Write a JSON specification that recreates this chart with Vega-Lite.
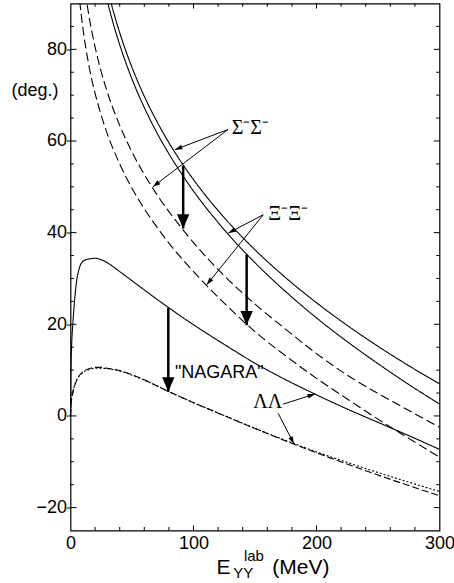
{
  "$schema": "https://vega.github.io/schema/vega-lite/v6.json",
  "width": 369,
  "height": 527,
  "autosize": {"type": "none"},
  "padding": {"left": 70.5, "top": 3.5, "right": 14.5, "bottom": 52.5},
  "background": "white",
  "config": {
    "view": {"stroke": "black", "strokeWidth": 1.2},
    "axis": {"labelFont": "Liberation Sans", "labelFontSize": 18, "labelColor": "black", "tickColor": "black", "tickWidth": 1, "grid": false, "domain": false, "title": null}
  },
  "datasets": {
    "ticks": [
      {"axis": "x", "v": 20, "major": false}, {"axis": "x", "v": 40, "major": false}, {"axis": "x", "v": 60, "major": false}, {"axis": "x", "v": 80, "major": false}, {"axis": "x", "v": 100, "major": true}, {"axis": "x", "v": 120, "major": false}, {"axis": "x", "v": 140, "major": false}, {"axis": "x", "v": 160, "major": false}, {"axis": "x", "v": 180, "major": false}, {"axis": "x", "v": 200, "major": true}, {"axis": "x", "v": 220, "major": false}, {"axis": "x", "v": 240, "major": false}, {"axis": "x", "v": 260, "major": false}, {"axis": "x", "v": 280, "major": false},
      {"axis": "y", "v": -20, "major": true}, {"axis": "y", "v": -15, "major": false}, {"axis": "y", "v": -10, "major": false}, {"axis": "y", "v": -5, "major": false}, {"axis": "y", "v": 0, "major": true}, {"axis": "y", "v": 5, "major": false}, {"axis": "y", "v": 10, "major": false}, {"axis": "y", "v": 15, "major": false}, {"axis": "y", "v": 20, "major": true}, {"axis": "y", "v": 25, "major": false}, {"axis": "y", "v": 30, "major": false}, {"axis": "y", "v": 35, "major": false}, {"axis": "y", "v": 40, "major": true}, {"axis": "y", "v": 45, "major": false}, {"axis": "y", "v": 50, "major": false}, {"axis": "y", "v": 55, "major": false}, {"axis": "y", "v": 60, "major": true}, {"axis": "y", "v": 65, "major": false}, {"axis": "y", "v": 70, "major": false}, {"axis": "y", "v": 75, "major": false}, {"axis": "y", "v": 80, "major": true}, {"axis": "y", "v": 85, "major": false}
    ],
    "curves": [
      {"s": "SigmaSigma", "x": 30, "y": 93.28}, {"s": "SigmaSigma", "x": 35, "y": 88.13}, {"s": "SigmaSigma", "x": 40, "y": 83.63}, {"s": "SigmaSigma", "x": 45, "y": 79.64}, {"s": "SigmaSigma", "x": 50, "y": 76.04}, {"s": "SigmaSigma", "x": 60, "y": 69.75}, {"s": "SigmaSigma", "x": 70, "y": 64.37}, {"s": "SigmaSigma", "x": 80, "y": 59.63}, {"s": "SigmaSigma", "x": 90, "y": 55.4}, {"s": "SigmaSigma", "x": 100, "y": 51.56}, {"s": "SigmaSigma", "x": 125, "y": 43.26}, {"s": "SigmaSigma", "x": 150, "y": 36.25}, {"s": "SigmaSigma", "x": 175, "y": 30.15}, {"s": "SigmaSigma", "x": 200, "y": 24.7}, {"s": "SigmaSigma", "x": 225, "y": 19.75}, {"s": "SigmaSigma", "x": 250, "y": 15.2}, {"s": "SigmaSigma", "x": 275, "y": 10.96}, {"s": "SigmaSigma", "x": 300, "y": 7.0},
      {"s": "XiXi", "x": 27, "y": 93.9}, {"s": "XiXi", "x": 30, "y": 90.5}, {"s": "XiXi", "x": 35, "y": 85.4}, {"s": "XiXi", "x": 40, "y": 81.0}, {"s": "XiXi", "x": 45, "y": 77.07}, {"s": "XiXi", "x": 50, "y": 73.5}, {"s": "XiXi", "x": 60, "y": 67.3}, {"s": "XiXi", "x": 70, "y": 61.9}, {"s": "XiXi", "x": 80, "y": 57.2}, {"s": "XiXi", "x": 90, "y": 52.95}, {"s": "XiXi", "x": 100, "y": 49.07}, {"s": "XiXi", "x": 125, "y": 40.63}, {"s": "XiXi", "x": 150, "y": 33.43}, {"s": "XiXi", "x": 175, "y": 27.1}, {"s": "XiXi", "x": 200, "y": 21.4}, {"s": "XiXi", "x": 225, "y": 16.2}, {"s": "XiXi", "x": 250, "y": 11.4}, {"s": "XiXi", "x": 275, "y": 6.86}, {"s": "XiXi", "x": 300, "y": 2.6},
      {"s": "SigmaSigma dashed", "x": 12, "y": 92.5}, {"s": "SigmaSigma dashed", "x": 15, "y": 87.3}, {"s": "SigmaSigma dashed", "x": 20, "y": 80.5}, {"s": "SigmaSigma dashed", "x": 25, "y": 75.1}, {"s": "SigmaSigma dashed", "x": 30, "y": 70.6}, {"s": "SigmaSigma dashed", "x": 40, "y": 63.4}, {"s": "SigmaSigma dashed", "x": 50, "y": 57.6}, {"s": "SigmaSigma dashed", "x": 60, "y": 52.7}, {"s": "SigmaSigma dashed", "x": 70, "y": 48.4}, {"s": "SigmaSigma dashed", "x": 80, "y": 44.6}, {"s": "SigmaSigma dashed", "x": 90, "y": 41.1}, {"s": "SigmaSigma dashed", "x": 100, "y": 37.8}, {"s": "SigmaSigma dashed", "x": 125, "y": 30.6}, {"s": "SigmaSigma dashed", "x": 150, "y": 24.4}, {"s": "SigmaSigma dashed", "x": 175, "y": 18.9}, {"s": "SigmaSigma dashed", "x": 200, "y": 13.6}, {"s": "SigmaSigma dashed", "x": 225, "y": 8.9}, {"s": "SigmaSigma dashed", "x": 250, "y": 4.9}, {"s": "SigmaSigma dashed", "x": 275, "y": 1.2}, {"s": "SigmaSigma dashed", "x": 300, "y": -2.5},
      {"s": "XiXi dashed", "x": 6.5, "y": 93.4}, {"s": "XiXi dashed", "x": 7.6, "y": 90.3}, {"s": "XiXi dashed", "x": 10, "y": 84.8}, {"s": "XiXi dashed", "x": 15, "y": 76.4}, {"s": "XiXi dashed", "x": 20, "y": 70.4}, {"s": "XiXi dashed", "x": 25, "y": 65.6}, {"s": "XiXi dashed", "x": 30, "y": 61.5}, {"s": "XiXi dashed", "x": 40, "y": 55.0}, {"s": "XiXi dashed", "x": 50, "y": 49.7}, {"s": "XiXi dashed", "x": 60, "y": 45.2}, {"s": "XiXi dashed", "x": 70, "y": 41.3}, {"s": "XiXi dashed", "x": 80, "y": 37.7}, {"s": "XiXi dashed", "x": 90, "y": 34.5}, {"s": "XiXi dashed", "x": 100, "y": 31.5}, {"s": "XiXi dashed", "x": 125, "y": 24.6}, {"s": "XiXi dashed", "x": 150, "y": 18.4}, {"s": "XiXi dashed", "x": 175, "y": 13.1}, {"s": "XiXi dashed", "x": 200, "y": 8.2}, {"s": "XiXi dashed", "x": 225, "y": 3.7}, {"s": "XiXi dashed", "x": 250, "y": -0.7}, {"s": "XiXi dashed", "x": 275, "y": -4.9}, {"s": "XiXi dashed", "x": 300, "y": -9.0},
      {"s": "NAGARA", "x": 0, "y": 0}, {"s": "NAGARA", "x": 0.25, "y": 8}, {"s": "NAGARA", "x": 0.5, "y": 12}, {"s": "NAGARA", "x": 1, "y": 16}, {"s": "NAGARA", "x": 2, "y": 20.5}, {"s": "NAGARA", "x": 3, "y": 24.2}, {"s": "NAGARA", "x": 4, "y": 27.2}, {"s": "NAGARA", "x": 5, "y": 29.5}, {"s": "NAGARA", "x": 6.5, "y": 31.6}, {"s": "NAGARA", "x": 8, "y": 32.9}, {"s": "NAGARA", "x": 10, "y": 33.7}, {"s": "NAGARA", "x": 14, "y": 34.2}, {"s": "NAGARA", "x": 20, "y": 34.4}, {"s": "NAGARA", "x": 25, "y": 34.1}, {"s": "NAGARA", "x": 30, "y": 33.4}, {"s": "NAGARA", "x": 40, "y": 31.5}, {"s": "NAGARA", "x": 50, "y": 29.5}, {"s": "NAGARA", "x": 60, "y": 27.5}, {"s": "NAGARA", "x": 70, "y": 25.5}, {"s": "NAGARA", "x": 80, "y": 23.6}, {"s": "NAGARA", "x": 90, "y": 21.7}, {"s": "NAGARA", "x": 100, "y": 19.9}, {"s": "NAGARA", "x": 125, "y": 15.6}, {"s": "NAGARA", "x": 150, "y": 11.5}, {"s": "NAGARA", "x": 175, "y": 7.9}, {"s": "NAGARA", "x": 200, "y": 4.6}, {"s": "NAGARA", "x": 225, "y": 1.5}, {"s": "NAGARA", "x": 250, "y": -1.4}, {"s": "NAGARA", "x": 275, "y": -4.3}, {"s": "NAGARA", "x": 300, "y": -7.3},
      {"s": "LambdaLambda dashed", "x": 0, "y": 0}, {"s": "LambdaLambda dashed", "x": 0.5, "y": 2.7}, {"s": "LambdaLambda dashed", "x": 1, "y": 3.8}, {"s": "LambdaLambda dashed", "x": 2, "y": 5.2}, {"s": "LambdaLambda dashed", "x": 3, "y": 6.3}, {"s": "LambdaLambda dashed", "x": 4, "y": 7.1}, {"s": "LambdaLambda dashed", "x": 6, "y": 8.3}, {"s": "LambdaLambda dashed", "x": 8, "y": 9.1}, {"s": "LambdaLambda dashed", "x": 10, "y": 9.6}, {"s": "LambdaLambda dashed", "x": 15, "y": 10.3}, {"s": "LambdaLambda dashed", "x": 20, "y": 10.6}, {"s": "LambdaLambda dashed", "x": 25, "y": 10.6}, {"s": "LambdaLambda dashed", "x": 30, "y": 10.4}, {"s": "LambdaLambda dashed", "x": 40, "y": 9.9}, {"s": "LambdaLambda dashed", "x": 50, "y": 9.0}, {"s": "LambdaLambda dashed", "x": 60, "y": 7.9}, {"s": "LambdaLambda dashed", "x": 70, "y": 6.6}, {"s": "LambdaLambda dashed", "x": 80, "y": 5.3}, {"s": "LambdaLambda dashed", "x": 90, "y": 4.1}, {"s": "LambdaLambda dashed", "x": 100, "y": 2.9}, {"s": "LambdaLambda dashed", "x": 125, "y": 0.05}, {"s": "LambdaLambda dashed", "x": 150, "y": -2.75}, {"s": "LambdaLambda dashed", "x": 175, "y": -5.45}, {"s": "LambdaLambda dashed", "x": 200, "y": -8.05}, {"s": "LambdaLambda dashed", "x": 225, "y": -10.5}, {"s": "LambdaLambda dashed", "x": 250, "y": -12.9}, {"s": "LambdaLambda dashed", "x": 275, "y": -15.2}, {"s": "LambdaLambda dashed", "x": 300, "y": -17.4},
      {"s": "LambdaLambda dotted", "x": 0, "y": 0}, {"s": "LambdaLambda dotted", "x": 0.5, "y": 2.9}, {"s": "LambdaLambda dotted", "x": 1, "y": 4.0}, {"s": "LambdaLambda dotted", "x": 2, "y": 5.4}, {"s": "LambdaLambda dotted", "x": 3, "y": 6.4}, {"s": "LambdaLambda dotted", "x": 4, "y": 7.2}, {"s": "LambdaLambda dotted", "x": 6, "y": 8.3}, {"s": "LambdaLambda dotted", "x": 8, "y": 9.0}, {"s": "LambdaLambda dotted", "x": 10, "y": 9.5}, {"s": "LambdaLambda dotted", "x": 15, "y": 10.1}, {"s": "LambdaLambda dotted", "x": 20, "y": 10.4}, {"s": "LambdaLambda dotted", "x": 25, "y": 10.4}, {"s": "LambdaLambda dotted", "x": 30, "y": 10.3}, {"s": "LambdaLambda dotted", "x": 40, "y": 9.8}, {"s": "LambdaLambda dotted", "x": 50, "y": 8.9}, {"s": "LambdaLambda dotted", "x": 60, "y": 7.8}, {"s": "LambdaLambda dotted", "x": 70, "y": 6.6}, {"s": "LambdaLambda dotted", "x": 80, "y": 5.3}, {"s": "LambdaLambda dotted", "x": 90, "y": 4.1}, {"s": "LambdaLambda dotted", "x": 100, "y": 2.9}, {"s": "LambdaLambda dotted", "x": 125, "y": 0.1}, {"s": "LambdaLambda dotted", "x": 150, "y": -2.7}, {"s": "LambdaLambda dotted", "x": 175, "y": -5.35}, {"s": "LambdaLambda dotted", "x": 200, "y": -7.85}, {"s": "LambdaLambda dotted", "x": 225, "y": -10.15}, {"s": "LambdaLambda dotted", "x": 250, "y": -12.35}, {"s": "LambdaLambda dotted", "x": 275, "y": -14.45}, {"s": "LambdaLambda dotted", "x": 300, "y": -16.5}
    ],
    "arrows": [
      {"id": "t1", "kind": "thick", "x": 91.6, "y": 54.6, "x2": 91.6, "y2": 40.9},
      {"id": "t2", "kind": "thick", "x": 143.2, "y": 35.2, "x2": 143.2, "y2": 19.8},
      {"id": "t3", "kind": "thick", "x": 79.5, "y": 23.6, "x2": 79.5, "y2": 5.3},
      {"id": "sA", "kind": "thin", "x": 128.0, "y": 62.5, "x2": 84.9, "y2": 58.1},
      {"id": "sB", "kind": "thin", "x": 128.0, "y": 62.5, "x2": 67.0, "y2": 50.0},
      {"id": "xA", "kind": "thin", "x": 156.7, "y": 43.9, "x2": 128.3, "y2": 39.9},
      {"id": "xB", "kind": "thin", "x": 156.7, "y": 43.9, "x2": 110.7, "y2": 28.6},
      {"id": "lA", "kind": "thin", "x": 173.0, "y": 2.58, "x2": 198.8, "y2": 4.8},
      {"id": "lB", "kind": "thin", "x": 168.9, "y": 0.55, "x2": 181.7, "y2": -6.1}
    ]
  },
  "layer": [
    {
      "data": {"name": "curves"},
      "mark": {"type": "line", "clip": true, "color": "black", "strokeWidth": 1.1, "interpolate": "monotone"},
      "encoding": {
        "x": {"field": "x", "type": "quantitative", "scale": {"domain": [0, 300], "nice": false, "zero": false},
          "axis": {"orient": "bottom", "title": null, "values": [0, 100, 200, 300], "ticks": false, "tickSize": 0, "labelPadding": 3.5, "labelOverlap": false, "labelFlush": false}},
        "y": {"field": "y", "type": "quantitative", "scale": {"domain": [-25, 90], "nice": false, "zero": false},
          "axis": {"orient": "left", "title": "(deg.)", "titleAngle": 0, "titleAlign": "right", "titleBaseline": "middle", "titleX": -12.5, "titleY": 86.5, "titleFont": "Liberation Sans", "titleFontSize": 18, "titleFontWeight": "normal", "titleColor": "black", "values": [-20, 0, 20, 40, 60, 80], "tickSize": 4, "labelPadding": 0, "labelOverlap": false, "labelFlush": false}},
        "strokeDash": {"field": "s", "type": "nominal", "legend": null,
          "scale": {"domain": ["SigmaSigma", "XiXi", "SigmaSigma dashed", "XiXi dashed", "NAGARA", "LambdaLambda dashed", "LambdaLambda dotted"],
                    "range": [[1, 0], [1, 0], [9, 4], [9, 4], [1, 0], [7, 3], [2, 2]]}}
      }
    },
    {"data": {"name": "ticks"}, "transform": [{"filter": "datum.axis === 'x' && datum.major"}], "mark": {"type": "tick", "orient": "vertical", "size": 5, "thickness": 1, "yOffset": -2.5, "color": "black", "opacity": 1},
      "encoding": {"x": {"field": "v", "type": "quantitative"}, "y": {"datum": -25, "type": "quantitative"}}},
    {"data": {"name": "ticks"}, "transform": [{"filter": "datum.axis === 'x' && !datum.major"}], "mark": {"type": "tick", "orient": "vertical", "size": 3.5, "thickness": 1, "yOffset": -1.75, "color": "black", "opacity": 1},
      "encoding": {"x": {"field": "v", "type": "quantitative"}, "y": {"datum": -25, "type": "quantitative"}}},
    {"data": {"name": "ticks"}, "transform": [{"filter": "datum.axis === 'x' && datum.major"}], "mark": {"type": "tick", "orient": "vertical", "size": 5, "thickness": 1, "yOffset": 2.5, "color": "black", "opacity": 1},
      "encoding": {"x": {"field": "v", "type": "quantitative"}, "y": {"datum": 90, "type": "quantitative"}}},
    {"data": {"name": "ticks"}, "transform": [{"filter": "datum.axis === 'x' && !datum.major"}], "mark": {"type": "tick", "orient": "vertical", "size": 3.3, "thickness": 1, "yOffset": 1.65, "color": "black", "opacity": 1},
      "encoding": {"x": {"field": "v", "type": "quantitative"}, "y": {"datum": 90, "type": "quantitative"}}},
    {"data": {"name": "ticks"}, "transform": [{"filter": "datum.axis === 'y' && datum.major"}], "mark": {"type": "tick", "orient": "horizontal", "size": 6, "thickness": 1, "xOffset": 3, "color": "black", "opacity": 1},
      "encoding": {"y": {"field": "v", "type": "quantitative"}, "x": {"datum": 0, "type": "quantitative"}}},
    {"data": {"name": "ticks"}, "transform": [{"filter": "datum.axis === 'y' && !datum.major"}], "mark": {"type": "tick", "orient": "horizontal", "size": 3.3, "thickness": 1, "xOffset": 1.65, "color": "black", "opacity": 1},
      "encoding": {"y": {"field": "v", "type": "quantitative"}, "x": {"datum": 0, "type": "quantitative"}}},
    {"data": {"name": "ticks"}, "transform": [{"filter": "datum.axis === 'y' && datum.major"}], "mark": {"type": "tick", "orient": "horizontal", "size": 5.7, "thickness": 1, "xOffset": -2.85, "color": "black", "opacity": 1},
      "encoding": {"y": {"field": "v", "type": "quantitative"}, "x": {"datum": 300, "type": "quantitative"}}},
    {"data": {"name": "ticks"}, "transform": [{"filter": "datum.axis === 'y' && !datum.major"}], "mark": {"type": "tick", "orient": "horizontal", "size": 3.3, "thickness": 1, "xOffset": -1.65, "color": "black", "opacity": 1},
      "encoding": {"y": {"field": "v", "type": "quantitative"}, "x": {"datum": 300, "type": "quantitative"}}},
    {
      "data": {"name": "arrows"},
      "transform": [{"filter": "datum.kind === 'thick'"}],
      "mark": {"type": "rule", "color": "black", "strokeWidth": 2.5},
      "encoding": {
        "x": {"field": "x", "type": "quantitative"},
        "y": {"field": "y", "type": "quantitative"},
        "x2": {"field": "x2"},
        "y2": {"field": "y2"}
      }
    },
    {
      "data": {"name": "arrows"},
      "transform": [{"filter": "datum.kind === 'thick'"}],
      "mark": {"type": "point", "shape": "M0,0L-0.43,-1L0.43,-1Z", "size": 818, "filled": true, "color": "black", "opacity": 1, "strokeWidth": 0},
      "encoding": {"x": {"field": "x2", "type": "quantitative"}, "y": {"field": "y2", "type": "quantitative"}}
    },
    {
      "data": {"name": "arrows"},
      "transform": [{"filter": "datum.kind === 'thin'"}],
      "mark": {"type": "rule", "color": "black", "strokeWidth": 1},
      "encoding": {
        "x": {"field": "x", "type": "quantitative"},
        "y": {"field": "y", "type": "quantitative"},
        "x2": {"field": "x2"},
        "y2": {"field": "y2"}
      }
    },
    {"data": {"name": "arrows"}, "transform": [{"filter": "datum.id === 'sA'"}], "mark": {"type": "point", "shape": "M0,0L0.32,1L-0.32,1Z", "size": 225, "angle": -110.9, "filled": true, "color": "black", "opacity": 1, "strokeWidth": 0}, "encoding": {"x": {"field": "x2", "type": "quantitative"}, "y": {"field": "y2", "type": "quantitative"}}},
    {"data": {"name": "arrows"}, "transform": [{"filter": "datum.id === 'sB'"}], "mark": {"type": "point", "shape": "M0,0L0.32,1L-0.32,1Z", "size": 225, "angle": -127.4, "filled": true, "color": "black", "opacity": 1, "strokeWidth": 0}, "encoding": {"x": {"field": "x2", "type": "quantitative"}, "y": {"field": "y2", "type": "quantitative"}}},
    {"data": {"name": "arrows"}, "transform": [{"filter": "datum.id === 'xA'"}], "mark": {"type": "point", "shape": "M0,0L0.32,1L-0.32,1Z", "size": 225, "angle": -117.7, "filled": true, "color": "black", "opacity": 1, "strokeWidth": 0}, "encoding": {"x": {"field": "x2", "type": "quantitative"}, "y": {"field": "y2", "type": "quantitative"}}},
    {"data": {"name": "arrows"}, "transform": [{"filter": "datum.id === 'xB'"}], "mark": {"type": "point", "shape": "M0,0L0.32,1L-0.32,1Z", "size": 225, "angle": -141.1, "filled": true, "color": "black", "opacity": 1, "strokeWidth": 0}, "encoding": {"x": {"field": "x2", "type": "quantitative"}, "y": {"field": "y2", "type": "quantitative"}}},
    {"data": {"name": "arrows"}, "transform": [{"filter": "datum.id === 'lA'"}], "mark": {"type": "point", "shape": "M0,0L0.32,1L-0.32,1Z", "size": 225, "angle": 72.3, "filled": true, "color": "black", "opacity": 1, "strokeWidth": 0}, "encoding": {"x": {"field": "x2", "type": "quantitative"}, "y": {"field": "y2", "type": "quantitative"}}},
    {"data": {"name": "arrows"}, "transform": [{"filter": "datum.id === 'lB'"}], "mark": {"type": "point", "shape": "M0,0L0.32,1L-0.32,1Z", "size": 225, "angle": 152.6, "filled": true, "color": "black", "opacity": 1, "strokeWidth": 0}, "encoding": {"x": {"field": "x2", "type": "quantitative"}, "y": {"field": "y2", "type": "quantitative"}}},
    {
      "data": {"values": [{"t": "Σ⁻Σ⁻", "x": 131, "y": 61.6}, {"t": "Ξ⁻Ξ⁻", "x": 160.8, "y": 42.8}, {"t": "ΛΛ", "x": 148.6, "y": 1.64}]},
      "mark": {"type": "text", "align": "left", "baseline": "alphabetic", "font": "Liberation Serif", "fontSize": 20, "color": "black"},
      "encoding": {"x": {"field": "x", "type": "quantitative"}, "y": {"field": "y", "type": "quantitative"}, "text": {"field": "t"}}
    },
    {
      "data": {"values": [{"t": "\"NAGARA\"", "x": 84.9, "y": 8.2}]},
      "mark": {"type": "text", "align": "left", "baseline": "alphabetic", "font": "Liberation Sans", "fontSize": 18, "color": "black"},
      "encoding": {"x": {"field": "x", "type": "quantitative"}, "y": {"field": "y", "type": "quantitative"}, "text": {"field": "t"}}
    },
    {
      "data": {"values": [{"t": "E", "x": 118.8, "y": -25}, {"t": "(MeV)", "x": 164, "y": -25}]},
      "mark": {"type": "text", "align": "left", "baseline": "alphabetic", "font": "Liberation Sans", "fontSize": 21, "dy": 43, "color": "black"},
      "encoding": {"x": {"field": "x", "type": "quantitative"}, "y": {"field": "y", "type": "quantitative"}, "text": {"field": "t"}}
    },
    {
      "data": {"values": [{"t": "YY", "x": 132.3, "y": -25}]},
      "mark": {"type": "text", "align": "left", "baseline": "alphabetic", "font": "Liberation Sans", "fontSize": 15, "dy": 47, "color": "black"},
      "encoding": {"x": {"field": "x", "type": "quantitative"}, "y": {"field": "y", "type": "quantitative"}, "text": {"field": "t"}}
    },
    {
      "data": {"values": [{"t": "lab", "x": 141, "y": -25}]},
      "mark": {"type": "text", "align": "left", "baseline": "alphabetic", "font": "Liberation Sans", "fontSize": 15, "dy": 30, "color": "black"},
      "encoding": {"x": {"field": "x", "type": "quantitative"}, "y": {"field": "y", "type": "quantitative"}, "text": {"field": "t"}}
    }
  ]
}
